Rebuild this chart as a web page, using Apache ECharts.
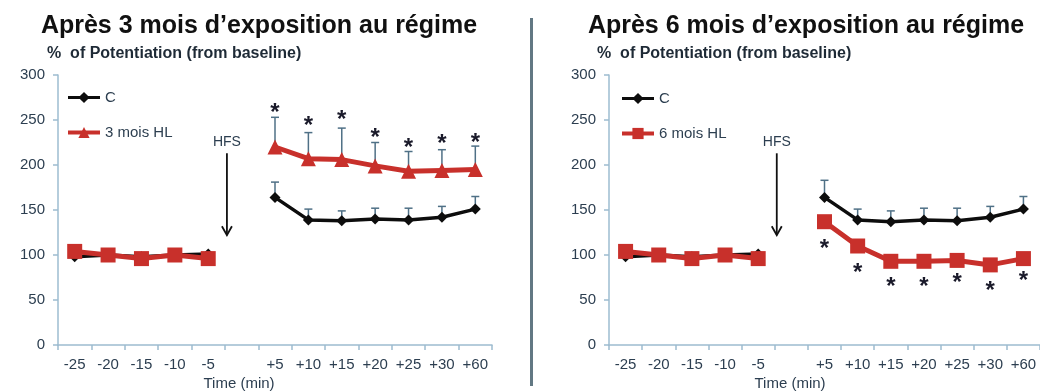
<!DOCTYPE html>
<html>
<head>
<meta charset="utf-8">
<script src="https://cdn.jsdelivr.net/npm/echarts@6/dist/echarts.min.js"></script>
<style>
  html, body { margin: 0; padding: 0; background: #fff; }
  #chart { width: 1040px; height: 392px; }
</style>
</head>
<body>
<div id="chart"></div>
<script>
// Time points (min) around high-frequency stimulation; the blank slot is the HFS gap
const categories = ['-25', '-20', '-15', '-10', '-5', '', '+5', '+10', '+15', '+20', '+25', '+30', '+60'];
const yTicks = [0, 50, 100, 150, 200, 250, 300];

// 3 months on diet
const control3 = [98, 100, 98, 100, 101, null, 164, 139, 138, 140, 139, 142, 151];
const control3Upper = [null, null, null, null, null, null, 181, 151, 149, 152, 152, 154, 165];
const hl3 = [104, 100, 96, 100, 96, null, 220, 207, 206, 199, 193, 194, 195];
const hl3Upper = [null, null, null, null, null, null, 253, 236, 241, 225, 215, 217, 221];
const hl3Star = [null, null, null, null, null, null, 263, 248, 255, 235, 224, 228, 230];

// 6 months on diet
const control6 = [98, 100, 98, 100, 101, null, 164, 139, 137, 139, 138, 142, 151];
const control6Upper = [null, null, null, null, null, null, 183, 151, 149, 152, 152, 154, 165];
const hl6 = [104, 100, 96, 100, 96, null, 137, 110, 93, 93, 94, 89, 96];
const hl6Star = [null, null, null, null, null, null, 112, 85, 70, 70, 74, 65, 76];

// HFS arrow: top and tip, in % units
const hfsArrow = [213, 122];
const hfsLabelValue = 225;

const FONT = "'Liberation Sans', Arial, sans-serif";
const RED = '#c8302b';
const AXIS = '#9dbcd0';
const TICKTXT = '#2c3e50';
const ERR = '#4f7086';

const chart = echarts.init(document.getElementById('chart'), null, { renderer: 'canvas' });

function errItems(mean, upper) {
  const out = [];
  upper.forEach((u, i) => { if (u != null) out.push([i, mean[i], u]); });
  return out;
}
function starItems(stars) {
  const out = [];
  stars.forEach((s, i) => { if (s != null) out.push([i, s]); });
  return out;
}

function renderErr(params, api) {
  const a = api.coord([api.value(0), api.value(1)]);
  const b = api.coord([api.value(0), api.value(2)]);
  const st = { stroke: ERR, lineWidth: 1.5 };
  return {
    type: 'group',
    children: [
      { type: 'line', shape: { x1: a[0], y1: a[1], x2: b[0], y2: b[1] }, style: st },
      { type: 'line', shape: { x1: b[0] - 4, y1: b[1], x2: b[0] + 4, y2: b[1] }, style: st }
    ]
  };
}

function renderStar(params, api) {
  const p = api.coord([api.value(0), api.value(1)]);
  return {
    type: 'text',
    x: p[0], y: p[1] + 5,
    style: {
      text: '*', font: 'bold 24px ' + FONT, fill: '#1a1a2a',
      textAlign: 'center', textVerticalAlign: 'middle'
    }
  };
}

// arrow drawn at the boundary between the "-5" slot and the blank HFS slot
function renderArrow(params, api) {
  const left = api.coord([4, api.value(1)]);
  const right = api.coord([5, api.value(1)]);
  const x = (left[0] + right[0]) / 2 + 2;
  const top = api.coord([4, api.value(1)])[1];
  const tip = api.coord([4, api.value(2)])[1];
  const lbl = api.coord([4, api.value(3)])[1];
  const st = { stroke: '#111', lineWidth: 1.8, fill: null };
  return {
    type: 'group',
    children: [
      { type: 'line', shape: { x1: x, y1: top, x2: x, y2: tip }, style: st },
      { type: 'polyline', shape: { points: [[x - 5, tip - 9], [x, tip], [x + 5, tip - 9]] }, style: st },
      { type: 'text', x: x, y: lbl,
        style: { text: 'HFS', font: '14px ' + FONT, fill: TICKTXT, textAlign: 'center', textVerticalAlign: 'middle' } }
    ]
  };
}

function xAxisFor(gi) {
  return {
    type: 'category', gridIndex: gi, data: categories, boundaryGap: true,
    axisLine: { lineStyle: { color: AXIS, width: 1.5 } },
    axisTick: { show: true, length: 5, lineStyle: { color: AXIS, width: 1.5 } },
    axisLabel: { color: TICKTXT, fontSize: 15, fontFamily: FONT, margin: 12, interval: 0 },
    splitLine: { show: false }
  };
}
function yAxisFor(gi) {
  return {
    type: 'value', gridIndex: gi, min: yTicks[0], max: yTicks[yTicks.length - 1], interval: 50,
    axisLine: { show: true, lineStyle: { color: AXIS, width: 1.5 } },
    axisTick: { show: true, length: 5, lineStyle: { color: AXIS, width: 1.5 } },
    axisLabel: { color: TICKTXT, fontSize: 15, fontFamily: FONT, margin: 13 },
    splitLine: { show: false }
  };
}

function controlSeries(gi, data) {
  return {
    name: 'C', type: 'line', xAxisIndex: gi, yAxisIndex: gi, data: data,
    connectNulls: false, symbol: 'diamond', symbolSize: 11, z: 3,
    lineStyle: { color: '#0d0d0d', width: 3.5 },
    itemStyle: { color: '#0d0d0d' }, animation: false
  };
}

function legendFor(names, left, top) {
  return {
    orient: 'vertical', left: left, top: top, padding: 0,
    itemGap: 20, itemWidth: 32, itemHeight: 14,
    textStyle: { fontSize: 15, color: '#2d3f50', fontFamily: FONT },
    data: [
      { name: names[0], lineStyle: { width: 3 } },
      { name: names[1], lineStyle: { width: 4 } }
    ]
  };
}

const hl3Data = hl3.map((v, i) => (i < 5 ? { value: v, symbol: 'rect', symbolSize: 15 } : v));

const option = {
  animation: false,
  grid: [
    { left: 58, top: 75, width: 434, height: 270 },
    { left: 609, top: 75, width: 434, height: 270 }
  ],
  xAxis: [xAxisFor(0), xAxisFor(1)],
  yAxis: [yAxisFor(0), yAxisFor(1)],
  legend: [legendFor(['C', '3 mois HL'], 66, 90), legendFor(['C', '6 mois HL'], 620, 91)],
  series: [
    { name: 'err C3', type: 'custom', xAxisIndex: 0, yAxisIndex: 0, renderItem: renderErr,
      data: errItems(control3, control3Upper), z: 1, silent: true },
    { name: 'err HL3', type: 'custom', xAxisIndex: 0, yAxisIndex: 0, renderItem: renderErr,
      data: errItems(hl3, hl3Upper), z: 1, silent: true },
    controlSeries(0, control3),
    {
      name: '3 mois HL', type: 'line', xAxisIndex: 0, yAxisIndex: 0, data: hl3Data,
      connectNulls: false, symbol: 'triangle', symbolSize: 15, z: 4,
      lineStyle: { color: RED, width: 5 }, itemStyle: { color: RED }
    },
    { name: 'sig3', type: 'custom', xAxisIndex: 0, yAxisIndex: 0, renderItem: renderStar,
      data: starItems(hl3Star), z: 5, silent: true },
    { name: 'HFS 3', type: 'custom', xAxisIndex: 0, yAxisIndex: 0, renderItem: renderArrow,
      encode: { x: 0, y: 1 }, data: [[4, hfsArrow[0], hfsArrow[1], hfsLabelValue]], z: 5, silent: true },

    { name: 'err C6', type: 'custom', xAxisIndex: 1, yAxisIndex: 1, renderItem: renderErr,
      data: errItems(control6, control6Upper), z: 1, silent: true },
    controlSeries(1, control6),
    {
      name: '6 mois HL', type: 'line', xAxisIndex: 1, yAxisIndex: 1, data: hl6,
      connectNulls: false, symbol: 'rect', symbolSize: 15, z: 4,
      lineStyle: { color: RED, width: 5 }, itemStyle: { color: RED }
    },
    { name: 'sig6', type: 'custom', xAxisIndex: 1, yAxisIndex: 1, renderItem: renderStar,
      data: starItems(hl6Star), z: 5, silent: true },
    { name: 'HFS 6', type: 'custom', xAxisIndex: 1, yAxisIndex: 1, renderItem: renderArrow,
      encode: { x: 0, y: 1 }, data: [[4, hfsArrow[0], hfsArrow[1], hfsLabelValue]], z: 5, silent: true }
  ],
  graphic: [
    { type: 'text', x: 259, y: 26, style: { text: 'Après 3 mois d’exposition au régime',
      font: 'bold 25px ' + FONT, fill: '#111', textAlign: 'center', textVerticalAlign: 'middle' } },
    { type: 'text', x: 806, y: 26, style: { text: 'Après 6 mois d’exposition au régime',
      font: 'bold 25px ' + FONT, fill: '#111', textAlign: 'center', textVerticalAlign: 'middle' } },
    { type: 'text', x: 47, y: 54, style: { text: '%  of Potentiation (from baseline)',
      font: 'bold 16px ' + FONT, fill: '#1e2a36', textAlign: 'left', textVerticalAlign: 'middle' } },
    { type: 'text', x: 597, y: 54, style: { text: '%  of Potentiation (from baseline)',
      font: 'bold 16px ' + FONT, fill: '#1e2a36', textAlign: 'left', textVerticalAlign: 'middle' } },
    { type: 'text', x: 239, y: 384, style: { text: 'Time (min)',
      font: '15px ' + FONT, fill: TICKTXT, textAlign: 'center', textVerticalAlign: 'middle' } },
    { type: 'text', x: 790, y: 384, style: { text: 'Time (min)',
      font: '15px ' + FONT, fill: TICKTXT, textAlign: 'center', textVerticalAlign: 'middle' } },
    { type: 'line', shape: { x1: 531.5, y1: 18, x2: 531.5, y2: 386 },
      style: { stroke: '#627883', lineWidth: 3 } }
  ]
};

chart.setOption(option);
</script>
</body>
</html>
